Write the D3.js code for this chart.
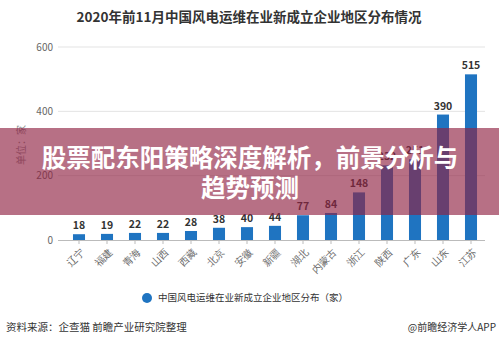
<!DOCTYPE html>
<html>
<head>
<meta charset="utf-8">
<script src="https://cdn.jsdelivr.net/npm/d3@7/dist/d3.min.js"></script>
<style>
  html, body { margin: 0; padding: 0; background: #fff; }
  svg { display: block; font-family: "Noto Sans CJK SC", "Noto Sans", sans-serif; }
</style>
</head>
<body>
<svg id="chart" width="499" height="345"></svg>
<script>
// Regions and number of newly founded wind-power O&M companies (Jan–Nov 2020)
const regions = ["辽宁", "福建", "青海", "山西", "西藏", "北京", "安徽", "新疆", "湖北", "内蒙古", "浙江", "陕西", "广东", "山东", "江苏"];
const counts = [18, 19, 22, 22, 28, 38, 40, 44, 77, 84, 148, 232, 251, 390, 515];
const yTicks = [0, 200, 400, 600];

const titleText = "2020年前11月中国风电运维在业新成立企业地区分布情况";
const unitText = "单位：家";
const legendText = "中国风电运维在业新成立企业地区分布（家）";
const sourceText = "资料来源：企查猫 前瞻产业研究院整理";
const creditText = "@前瞻经济学人APP";
const bannerLines = ["股票配东阳策略深度解析，前景分析与", "趋势预测"];

const barColor = "#1f74c1";
const svg = d3.select("#chart");

const x = d3.scaleBand().domain(regions).range([65, 485]).paddingInner(0.57).paddingOuter(0.285);
const y = d3.scaleLinear().domain([0, 600]).range([240, 47]);

// Title
svg.append("text")
  .attr("x", 249).attr("y", 22)
  .attr("text-anchor", "middle")
  .attr("font-size", 13.5).attr("font-weight", "bold").attr("fill", "#333")
  .text(titleText);

// Horizontal grid lines and y tick labels
const yAxis = svg.append("g");
yAxis.selectAll("line.grid").data(yTicks.filter(d => d > 0)).join("line")
  .attr("x1", 58).attr("x2", 485)
  .attr("y1", d => y(d)).attr("y2", d => y(d))
  .attr("stroke", "#e3e3e3").attr("stroke-width", 1);
yAxis.selectAll("text").data(yTicks).join("text")
  .attr("x", 53).attr("y", d => y(d))
  .attr("dy", "0.35em").attr("text-anchor", "end")
  .attr("font-size", 10).attr("fill", "#666")
  .text(d => d);

// Unit label
svg.append("text")
  .attr("transform", "translate(25,145) rotate(-90)")
  .attr("text-anchor", "middle")
  .attr("font-size", 10).attr("fill", "#888")
  .text(unitText);

// Bars
svg.append("g").selectAll("rect").data(counts).join("rect")
  .attr("x", (d, i) => x(regions[i]))
  .attr("y", d => y(d))
  .attr("width", x.bandwidth())
  .attr("height", d => y(0) - y(d))
  .attr("fill", barColor);

// Value labels
svg.append("g").selectAll("text").data(counts).join("text")
  .attr("x", (d, i) => x(regions[i]) + x.bandwidth() / 2)
  .attr("y", d => y(d) - 5)
  .attr("text-anchor", "middle")
  .attr("font-size", 10.5).attr("font-weight", "bold").attr("fill", "#333")
  .text(d => d);

// Category axis
const xAxis = d3.axisBottom(x).tickSize(4).tickSizeOuter(0);
const gx = svg.append("g").attr("transform", `translate(0,${y(0)})`).call(xAxis);
gx.select(".domain").attr("stroke", "#bbb").attr("d", "M58,0.5H485");
gx.selectAll(".tick line").attr("stroke", "#bbb");
gx.selectAll(".tick text")
  .attr("font-family", null)
  .attr("font-size", 10).attr("fill", "#666")
  .attr("text-anchor", "end")
  .attr("transform", "translate(1,8) rotate(-45)")
  .attr("dy", "0.7em").attr("dx", 0).attr("y", 0);

// Legend
svg.append("circle").attr("cx", 147).attr("cy", 298).attr("r", 5).attr("fill", barColor);
svg.append("text")
  .attr("x", 158).attr("y", 298).attr("dy", "0.35em")
  .attr("font-size", 9.5).attr("fill", "#333")
  .text(legendText);

// Footer
svg.append("text")
  .attr("x", 6).attr("y", 327).attr("dy", "0.35em")
  .attr("font-size", 10.5).attr("fill", "#333")
  .text(sourceText);
svg.append("text")
  .attr("x", 496).attr("y", 327).attr("dy", "0.35em")
  .attr("text-anchor", "end")
  .attr("font-size", 10).attr("fill", "#333")
  .text(creditText);

// Headline banner across the chart
svg.append("rect")
  .attr("x", 0).attr("y", 128).attr("width", 499).attr("height", 87)
  .attr("fill", "rgb(144,35,68)").attr("fill-opacity", 0.65);
svg.append("g").selectAll("text").data(bannerLines).join("text")
  .attr("x", 250).attr("y", (d, i) => 158 + i * 30)
  .attr("dy", "0.35em").attr("text-anchor", "middle")
  .attr("font-size", 24.5).attr("font-weight", "bold").attr("fill", "#fff")
  .text(d => d);
</script>
</body>
</html>
